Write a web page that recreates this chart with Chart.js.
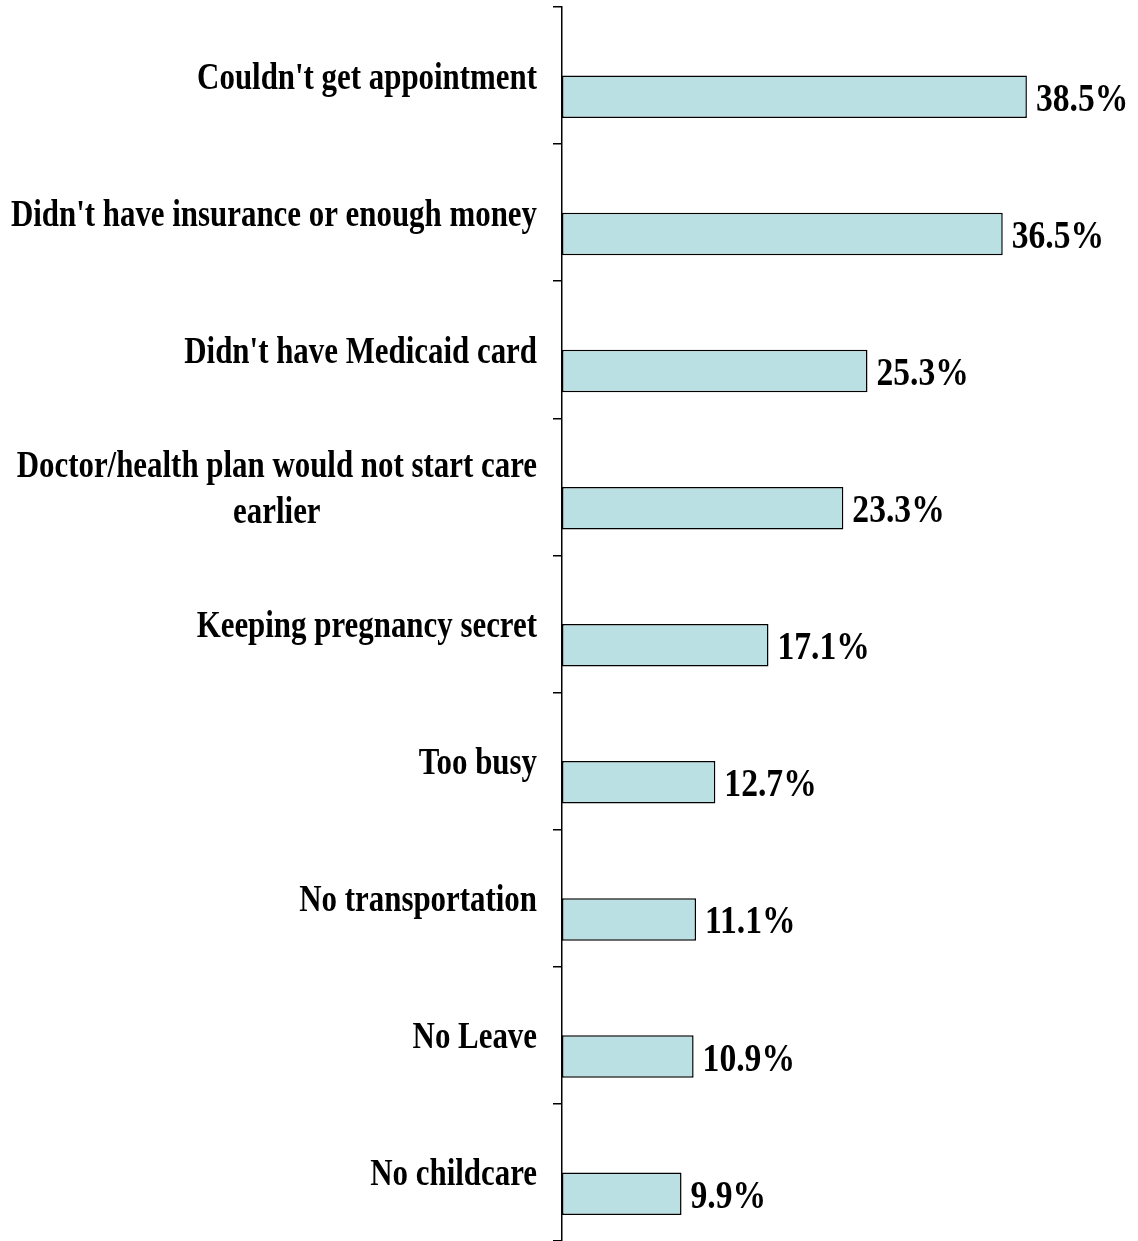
<!DOCTYPE html>
<html>
<head>
<meta charset="utf-8">
<style>
  html, body { margin: 0; padding: 0; background: #ffffff; }
  #chart { display: block; }
</style>
<script src="https://cdn.jsdelivr.net/npm/chart.js@4.4.1/dist/chart.umd.min.js"></script>
</head>
<body>
<canvas id="chart" width="1138" height="1241"></canvas>
<script>
  // Reasons for not getting prenatal care earlier (percent)
  const categories = [
    ["Couldn't get appointment"],
    ["Didn't have insurance or enough money"],
    ["Didn't have Medicaid card"],
    ["Doctor/health plan would not start care", "earlier"],
    ["Keeping pregnancy secret"],
    ["Too busy"],
    ["No transportation"],
    ["No Leave"],
    ["No childcare"]
  ];
  const values = [38.5, 36.5, 25.3, 23.3, 17.1, 12.7, 11.1, 10.9, 9.9];
  const spacer = categories.map(() => null);

  // the source uses a tall, narrow bold serif: draw Liberation Serif squeezed horizontally
  const LABEL_FONT = "bold 38px 'Liberation Serif', 'Times New Roman', serif";
  const LABEL_SQUEEZE = 0.813;
  const VALUE_FONT = "bold 40px 'Liberation Serif', 'Times New Roman', serif";
  const VALUE_SQUEEZE = 0.84;

  function squeezedText(ctx, text, x, y, sx) {
    ctx.save();
    ctx.translate(x, y);
    ctx.scale(sx, 1);
    ctx.fillText(text, 0, 0);
    ctx.restore();
  }

  // category labels: block right-aligned at the axis, lines centred inside the block
  const categoryLabels = {
    id: "categoryLabels",
    afterDraw(chart) {
      const ctx = chart.ctx;
      const yScale = chart.scales.y;
      const rightEdge = chart.chartArea.left - 25;
      const lineH = 46;
      ctx.save();
      ctx.font = LABEL_FONT;
      ctx.fillStyle = "#000";
      ctx.textAlign = "center";
      ctx.textBaseline = "alphabetic";
      categories.forEach((lines, i) => {
        const w = Math.max(...lines.map((l) => ctx.measureText(l).width)) * LABEL_SQUEEZE;
        const cx = rightEdge - w / 2;
        const cy = yScale.getPixelForValue(i) + 13;
        const top = cy - ((lines.length - 1) * lineH) / 2;
        lines.forEach((l, k) => squeezedText(ctx, l, cx, top + k * lineH, LABEL_SQUEEZE));
      });
      ctx.restore();
    }
  };

  // value labels at the end of each bar
  const valueLabels = {
    id: "valueLabels",
    afterDatasetsDraw(chart) {
      const ctx = chart.ctx;
      const meta = chart.getDatasetMeta(1);
      ctx.save();
      ctx.font = VALUE_FONT;
      ctx.fillStyle = "#000";
      ctx.textAlign = "left";
      ctx.textBaseline = "alphabetic";
      meta.data.forEach((bar, i) => {
        squeezedText(ctx, values[i].toFixed(1) + "%", bar.x + 9, bar.y + 14, VALUE_SQUEEZE);
      });
      ctx.restore();
    }
  };

  new Chart(document.getElementById("chart"), {
    type: "bar",
    data: {
      labels: categories,
      datasets: [
        { data: spacer, backgroundColor: "rgba(0,0,0,0)", borderWidth: 0 },
        {
          data: values,
          backgroundColor: "#BBE0E3",
          borderColor: "#000000",
          borderWidth: 1.5,
          borderSkipped: false
        }
      ]
    },
    options: {
      indexAxis: "y",
      responsive: false,
      animation: false,
      categoryPercentage: 0.62,
      barPercentage: 1.0,
      layout: { padding: { left: 553, right: 93, top: 7, bottom: -4 } },
      plugins: {
        legend: { display: false },
        tooltip: { enabled: false }
      },
      scales: {
        x: {
          display: false,
          min: 0,
          max: 40
        },
        y: {
          position: "left",
          grid: {
            offset: true,
            drawOnChartArea: false,
            drawTicks: true,
            tickLength: 9,
            color: "#000000",
            // the bottom boundary tick falls just below the picture in the source
            tickColor: (c) => (c.index >= categories.length - 1 && c.tick === undefined) ? "rgba(0,0,0,0)" : "#000000",
            lineWidth: 1.5
          },
          border: { display: true, color: "#000000", width: 1.5 },
          ticks: { display: false }
        }
      }
    },
    plugins: [categoryLabels, valueLabels]
  });
</script>
</body>
</html>
